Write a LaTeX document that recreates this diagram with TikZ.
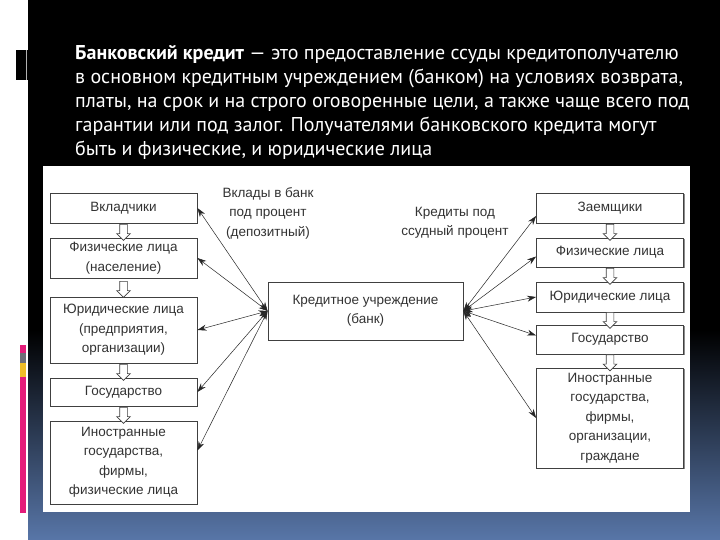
\documentclass[tikz,border=0pt]{standalone}
\usepackage{fontspec}
\setmainfont{Liberation Sans}
\newfontfamily\headfont{PT Sans}
\usetikzlibrary{arrows.meta,shapes.arrows,shadows}

\definecolor{slideblue}{RGB}{88,118,168}
\definecolor{barpink}{RGB}{228,28,122}
\definecolor{bargrey}{RGB}{110,110,120}
\definecolor{baryellow}{RGB}{240,190,40}

\tikzset{
  ent/.style={draw=black!75,fill=white,line width=0.8pt,minimum width=147pt,align=center,inner sep=2pt,
    text=black!80,font=\fontsize{13.5}{19.5}\selectfont,
    drop shadow={shadow xshift=1pt,shadow yshift=-1.2pt,fill=black!45,opacity=1}},
  lbl/.style={align=center,inner sep=0pt,text=black!80,font=\fontsize{13.5}{19.5}\selectfont},
  link/.style={{Stealth[length=9pt,width=6pt]}-{Stealth[length=9pt,width=6pt]},line width=0.5pt,draw=black!85},
  downarr/.style={single arrow,draw=black!75,fill=white,line width=0.6pt,shape border rotate=270,
    minimum height=16pt,inner sep=3.5pt,single arrow head extend=3pt}
}

\begin{document}
\begin{tikzpicture}[x=1pt,y=-1pt]
\path[use as bounding box] (0,0) rectangle (720,540);
% slide
\fill[white] (0,0) rectangle (720,540);
\fill[black] (28,0) rectangle (720,540);
\shade[top color=black,bottom color=slideblue] (28,330) rectangle (720,540);
\fill[black] (16,50) rectangle (28,80);
\draw[black!30,line width=0.6pt] (26,50) -- (26,80);
\fill[barpink] (20,345) rectangle (26,513);
\fill[bargrey] (20,353) rectangle (26,363);
\fill[baryellow] (20,363) rectangle (26,377);

% header
\node[anchor=north west,align=left,inner sep=0pt,text=white,font=\headfont\fontsize{20}{24}\selectfont] (head) at (75,45)
  {\textbf{Банковский кредит} — это предоставление ссуды кредитополучателю\\
   в основном кредитным учреждением (банком) на условиях возврата,\\
   платы, на срок и на строго оговоренные цели, а также чаще всего под\\
   гарантии или под залог. Получателями банковского кредита могут\\
   быть и физические, и юридические лица};

% diagram panel
\fill[white] (43,166) rectangle (690,512);

% left column
\node[ent,minimum height=30pt] (l1) at (123.5,208) {Вкладчики};
\node[ent,minimum height=40pt] (l2) at (123.5,258) {Физические лица\\(население)};
\node[ent,minimum height=66pt] (l3) at (123.5,330) {Юридические лица\\(предприятия,\\организации)};
\node[ent,minimum height=28pt] (l4) at (123.5,392) {Государство};
\node[ent,minimum height=83pt] (l5) at (123.5,462.5) {Иностранные\\государства,\\фирмы,\\физические лица};

% right column
\node[ent,minimum height=30pt] (r1) at (610,208) {Заемщики};
\node[ent,minimum height=29pt] (r2) at (610,252.5) {Физические лица};
\node[ent,minimum height=30pt] (r3) at (610,297) {Юридические лица};
\node[ent,minimum height=29pt] (r4) at (610,339.5) {Государство};
\node[ent,minimum height=100pt] (r5) at (610,418) {Иностранные\\государства,\\фирмы,\\организации,\\граждане};

% bank
\node[ent,minimum width=195pt,minimum height=58pt] (bank) at (365.5,311) {Кредитное учреждение\\(банк)};

% flow labels
\node[lbl] (dep) at (268,213) {Вклады в банк\\под процент\\(депозитный)};
\node[lbl] (cred) at (455,223) {Кредиты под\\ссудный процент};

% down arrows
\node[downarr] (la1) at (123.5,230.5) {};
\node[downarr] (la2) at (123.5,287.5) {};
\node[downarr] (la3) at (123.5,370.5) {};
\node[downarr] (la4) at (123.5,413.5) {};
\node[downarr] (ra1) at (610,230.5) {};
\node[downarr] (ra2) at (610,274.5) {};
\node[downarr] (ra3) at (610,318.5) {};
\node[downarr] (ra4) at (610,361) {};

% links
\draw[link] (bank.west) -- (l1.east);
\draw[link] (bank.west) -- (l2.east);
\draw[link] (bank.west) -- (l3.east);
\draw[link] (bank.west) -- (l4.east);
\draw[link] (bank.west) -- ([yshift=12pt]l5.east);
\draw[link] (bank.east) -- ([yshift=-8pt]r1.west);
\draw[link] (bank.east) -- ([yshift=-4pt]r2.west);
\draw[link] (bank.east) -- (r3.west);
\draw[link] (bank.east) -- ([yshift=4pt]r4.west);
\draw[link] (bank.east) -- (r5.west);
\end{tikzpicture}
\end{document}
